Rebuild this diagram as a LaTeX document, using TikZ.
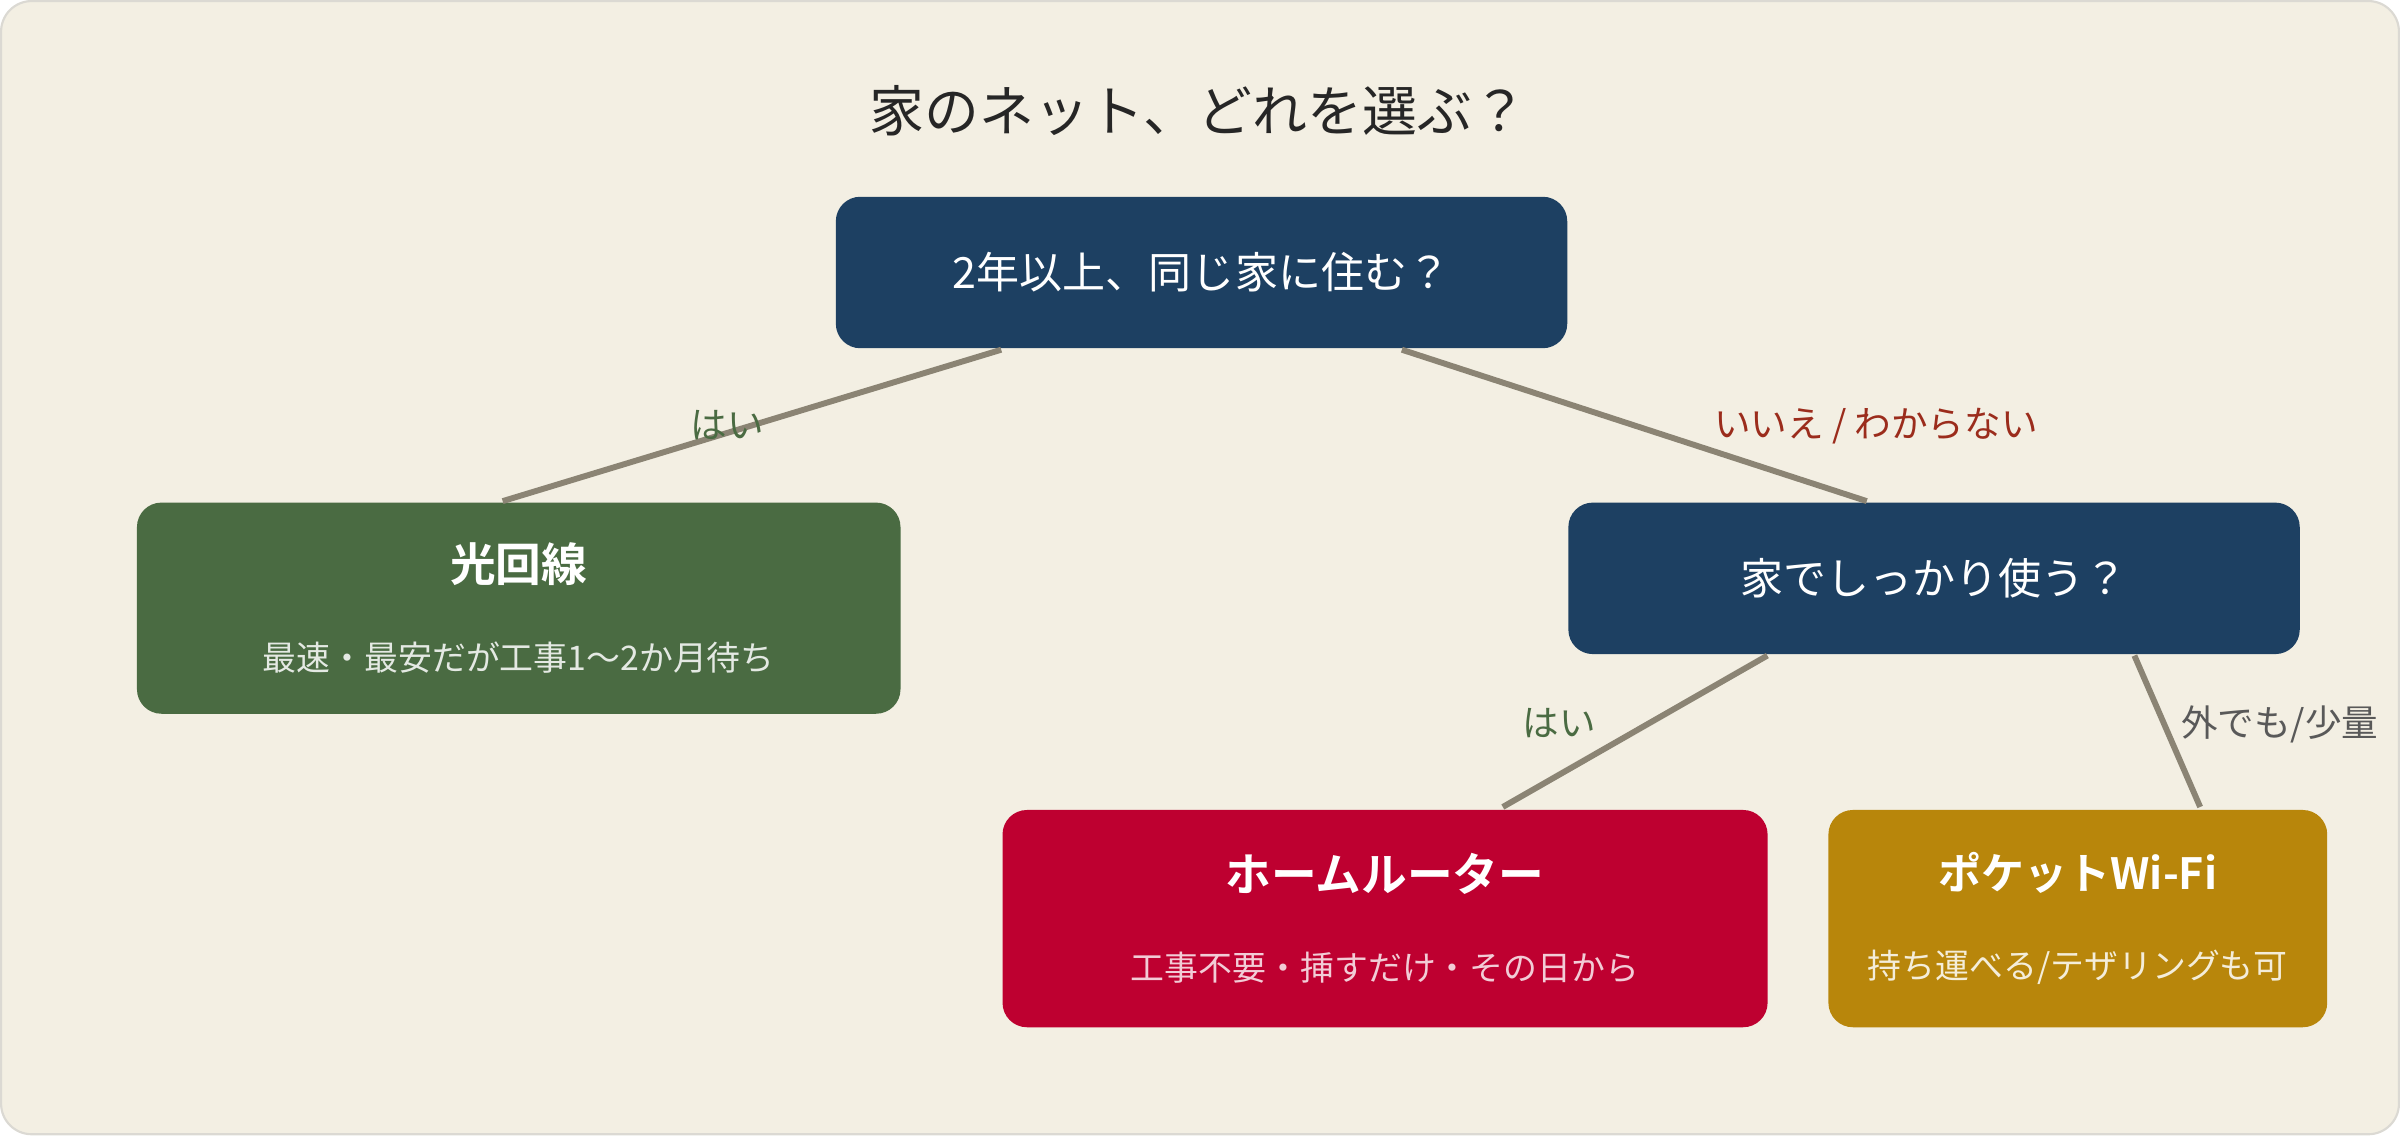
\documentclass[tikz,border=0pt]{standalone}
\usepackage{fontspec}
\setmainfont{Noto Sans CJK JP}
\newfontfamily\jpbold{Noto Sans CJK JP Bold}
\usetikzlibrary{positioning}
\definecolor{bgcol}{HTML}{F3EFE3}
\definecolor{navy}{HTML}{1D4062}
\definecolor{fibre}{HTML}{4A6B42}
\definecolor{router}{HTML}{BE0030}
\definecolor{pocket}{HTML}{B8860B}
\definecolor{edgecol}{HTML}{8B8474}
\definecolor{nocol}{HTML}{9B2C1C}
\begin{document}
\begin{tikzpicture}[x=0.01cm,y=-0.01cm,
  box/.style={rounded corners=0.16cm,text=white,align=center,inner sep=0pt},
  ask/.style={box,fill=navy,minimum width=4.78cm,minimum height=0.99cm,font=\fontsize{8}{10}\selectfont},
  ans/.style={box,minimum height=1.40cm},
  edge/.style={edgecol,line width=1.1pt},
  lbl/.style={font=\fontsize{6.8}{8}\selectfont}]
  \draw[fill=bgcol,draw=bgcol!80!black!60,rounded corners=0.2cm] (0,0) rectangle (1568,741);
  \node[font=\fontsize{10.2}{12}\selectfont,text=black!85] (title) at (783,72) {家のネット、どれを選ぶ？};

  \node[ask] (q1) at (785,177.5) {2年以上、同じ家に住む？};
  \node[ask] (q2) at (1264,377.5) {家でしっかり使う？};
  \node[ans,fill=fibre,minimum width=4.99cm,minimum height=1.38cm] (fibreopt) at (338.5,397)
    {{\jpbold\fontsize{8.5}{10}\selectfont 光回線}\\[0.45em]{\fontsize{6.3}{8}\selectfont\color{white!85!fibre} 最速・最安だが工事1〜2か月待ち}};
  \node[ans,fill=router,minimum width=5.00cm,minimum height=1.42cm] (routeropt) at (905,600)
    {{\jpbold\fontsize{8.5}{10}\selectfont ホームルーター}\\[0.45em]{\fontsize{6.3}{8}\selectfont\color{white!80!router} 工事不要・挿すだけ・その日から}};
  \node[ans,fill=pocket,minimum width=3.26cm,minimum height=1.42cm] (pocketopt) at (1358,600)
    {{\jpbold\fontsize{8}{10}\selectfont ポケットWi-Fi}\\[0.45em]{\fontsize{6.3}{8}\selectfont\color{white!85!pocket} 持ち運べる/テザリングも可}};

  \coordinate (q1a) at (654,228);   \coordinate (fa) at (328,327);
  \coordinate (q1b) at (916,228);   \coordinate (q2t) at (1220,327);
  \coordinate (q2a) at (1155,428);  \coordinate (ra) at (982,527);
  \coordinate (q2b) at (1395,428);  \coordinate (pa) at (1438,527);
  \draw[edge] (q1a) -- (fa);
  \draw[edge] (q1b) -- (q2t);
  \draw[edge] (q2a) -- (ra);
  \draw[edge] (q2b) -- (pa);

  \node[lbl,text=fibre] (yes1) at (475,277) {はい};
  \node[lbl,text=nocol] (no1) at (1226,278) {いいえ / わからない};
  \node[lbl,text=fibre] (yes2) at (1019,472) {はい};
  \node[lbl,text=black!65] (no2) at (1490,473) {外でも/少量};
\end{tikzpicture}
\end{document}
